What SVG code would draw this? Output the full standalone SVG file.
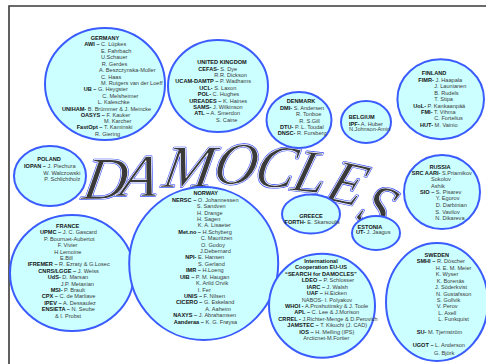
<svg xmlns="http://www.w3.org/2000/svg" xmlns:xlink="http://www.w3.org/1999/xlink" width="486" height="364" viewBox="0 0 486 364">
<style>
  .c { fill: #ccffff; stroke: #3a5cff; stroke-width: 2; }
  text { font-family: "Liberation Sans", Arial, sans-serif; font-size: 5.6px; fill: #3a3a3a; }
  .b { font-weight: bold; fill: #141414; }
  .m { text-anchor: middle; }
  .title { font-family: "Liberation Serif", "Times New Roman", serif; font-style: italic; font-size: 60px; }
</style>
<defs>
  <text id="word" class="title" transform="translate(33,0) skewX(-10)" x="83 120 161 211 252 290 325 360" y="199 196 187 184 186 190 199 219" rotate="0 0 0 0 3 6 12 22">DAMOCLES</text>
</defs>
<rect width="486" height="364" fill="#ffffff"/>
<path d="M9,364 V6 H486" fill="none" stroke="#3a3a3a" stroke-width="1.6"/>

<!-- banner word, double outline -->
<g id="banner">
  <use xlink:href="#word" fill="#eefcff" stroke="#2a40ff" stroke-width="1.9" stroke-linejoin="round"/>
  <use xlink:href="#word" fill="none" stroke="#ffffff" stroke-width="0.7" stroke-linejoin="round"/>
</g>

<g id="germany">
  <ellipse class="c" cx="105" cy="84" rx="60" ry="56"/>
  <text class="b m" x="105" y="39.7">GERMANY</text>
  <text x="84.3" y="45.7"><tspan class="b">AWI –</tspan> C. Lüpkes</text>
  <text x="101" y="53">E. Fahrbach</text>
  <text x="101" y="59">U.Schauer</text>
  <text x="101.7" y="65.7">R. Gerdes</text>
  <text x="99" y="72.3">A. Beszczynska-Moller</text>
  <text x="101" y="78.7">C. Haas</text>
  <text x="101" y="84.7">M. Rutgers van der Loeff</text>
  <text x="83.7" y="91.3"><tspan class="b">UB –</tspan> G. Heygster</text>
  <text x="102.3" y="97.7">C. Melsheimer</text>
  <text x="97.7" y="103.7">L. Kaleschke</text>
  <text x="62" y="110.7"><tspan class="b">UNIHAM-</tspan> B. Brümmer &amp; J. Meincke</text>
  <text x="80.7" y="116.7"><tspan class="b">OASYS –</tspan> F. Kauker</text>
  <text x="104" y="122.7">M. Karcher</text>
  <text x="76.7" y="129.3"><tspan class="b">FastOpt –</tspan> T. Kaminski</text>
  <text x="95" y="135.5">R. Giering</text>
</g>

<g id="uk">
  <ellipse class="c" cx="218" cy="86" rx="50" ry="46"/>
  <text class="b m" x="222" y="64.3">UNITED KINGDOM</text>
  <text x="198.3" y="71"><tspan class="b">CEFAS-</tspan> S. Dye</text>
  <text x="214.3" y="76.7">R.R. Dickson</text>
  <text x="175.3" y="83.3"><tspan class="b">UCAM-DAMTP –</tspan> P. Wadhams</text>
  <text x="199.3" y="89.7"><tspan class="b">UCL-</tspan> S. Laxon</text>
  <text x="197.7" y="96"><tspan class="b">POL-</tspan> C. Hughes</text>
  <text x="189.3" y="102.7"><tspan class="b">UREADES –</tspan> K. Haines</text>
  <text x="193.3" y="109"><tspan class="b">SAMS-</tspan> J. Wilkinson</text>
  <text x="194.3" y="115.3"><tspan class="b">ATL –</tspan> A. Smerdon</text>
  <text x="216" y="121.5">S. Caine</text>
</g>

<g id="denmark">
  <ellipse class="c" cx="299" cy="120" rx="32.5" ry="28"/>
  <text class="b m" x="301" y="102.7">DENMARK</text>
  <text x="280" y="110"><tspan class="b">DMI-</tspan> S. Andersen</text>
  <text x="296" y="116.3">R. Tonboe</text>
  <text x="299.3" y="122.7">R. S.Gill</text>
  <text x="280" y="129"><tspan class="b">DTU-</tspan> P. L. Toudal</text>
  <text x="277.7" y="135.3"><tspan class="b">DNSC-</tspan> R. Forsberg</text>
</g>

<g id="belgium">
  <ellipse class="c" cx="366" cy="122" rx="25" ry="21"/>
  <text class="b m" x="361.7" y="119">BELGIUM</text>
  <text x="349" y="125.7"><tspan class="b">IPF-</tspan> A. Huber</text>
  <text x="349" y="131.3">N.Johnson-Amin</text>
</g>

<g id="finland">
  <ellipse class="c" cx="440.7" cy="99.3" rx="43.3" ry="40"/>
  <text class="b m" x="434" y="75.3">FINLAND</text>
  <text x="418.3" y="82"><tspan class="b">FIMR-</tspan> J. Haapala</text>
  <text x="434.3" y="88">J. Launianen</text>
  <text x="434.3" y="94.7">B. Rudels</text>
  <text x="434.3" y="101">T. Stipa</text>
  <text x="413.3" y="107.7"><tspan class="b">UoL-</tspan> P. Kankaanpää</text>
  <text x="421" y="114"><tspan class="b">FMI-</tspan> T. Vihma</text>
  <text x="434.3" y="120">C. Fortelius</text>
  <text x="420" y="127"><tspan class="b">HUT-</tspan> M. Vainio</text>
</g>

<g id="poland">
  <ellipse class="c" cx="50" cy="176" rx="36" ry="30"/>
  <text class="b m" x="49" y="161">POLAND</text>
  <text x="24" y="168.3"><tspan class="b">IOPAN –</tspan> J. Piechura</text>
  <text x="43.3" y="174.7">W. Walczowski</text>
  <text x="44.3" y="181">P. Schlichtholz</text>
</g>

<g id="russia">
  <ellipse class="c" cx="442" cy="192" rx="38" ry="37"/>
  <text class="b m" x="440" y="168.7">RUSSIA</text>
  <text x="411.7" y="175.3"><tspan class="b">SRC AARI-</tspan> S.Priamikov</text>
  <text x="431" y="181.3">Sokolov</text>
  <text x="431" y="187.7">Ashik</text>
  <text x="420" y="194"><tspan class="b">SIO –</tspan> S. Pisarev</text>
  <text x="435.7" y="200.3">Y. Egorov</text>
  <text x="435.7" y="206.7">D. Darbinian</text>
  <text x="435.3" y="213.7">S. Vavilov</text>
  <text x="435.3" y="220">N. Dikareva</text>
</g>

<g id="france">
  <ellipse class="c" cx="72" cy="273" rx="62" ry="58"/>
  <text class="b m" x="67.7" y="227.7">FRANCE</text>
  <text x="40" y="234.3"><tspan class="b">UPMC –</tspan> J. C. Gascard</text>
  <text x="44" y="241">P. Bourruet-Aubertot</text>
  <text x="57.7" y="247">F. Vivier</text>
  <text x="54.3" y="253.7">H.Lemoine</text>
  <text x="60" y="259.7">E.Bill</text>
  <text x="27.7" y="265.7"><tspan class="b">IFREMER –</tspan> R. Ezraty &amp; G.Losec</text>
  <text x="38.3" y="273"><tspan class="b">CNRS/LGGE –</tspan> J. Weiss</text>
  <text x="47.7" y="279"><tspan class="b">UdS-</tspan> D. Marsan</text>
  <text x="60.7" y="285.7">J.P. Metaxian</text>
  <text x="50.7" y="292"><tspan class="b">MSI-</tspan> P. Brault</text>
  <text x="41.7" y="298"><tspan class="b">CPX –</tspan> C. de Marliave</text>
  <text x="44.3" y="304.7"><tspan class="b">IPEV –</tspan> A. Dessaulez</text>
  <text x="41.7" y="311"><tspan class="b">ENSIETA –</tspan> N. Seube</text>
  <text x="55" y="318">&amp; I. Probst</text>
</g>

<g id="norway">
  <ellipse class="c" cx="203.7" cy="263.5" rx="74.5" ry="76.5"/>
  <text class="b m" x="205.7" y="194.7">NORWAY</text>
  <text x="172" y="202"><tspan class="b">NERSC –</tspan> O. Johannessen</text>
  <text x="196.7" y="208">S. Sandven</text>
  <text x="197" y="215">H. Drange</text>
  <text x="197" y="221">H. Sagen</text>
  <text x="197.7" y="227">K. A. Lisaeter</text>
  <text x="178.3" y="234"><tspan class="b">Met.no –</tspan> H.Schyberg</text>
  <text x="200.7" y="240">C. Mauritzen</text>
  <text x="201" y="247">O. Godoy</text>
  <text x="200" y="252.7">J.Debernard</text>
  <text x="185.3" y="259"><tspan class="b">NPI-</tspan> E. Hansen</text>
  <text x="198" y="266">S. Gerland</text>
  <text x="186" y="272"><tspan class="b">IMR –</tspan> H.Loeng</text>
  <text x="180" y="279"><tspan class="b">UIB –</tspan> P. M. Haugan</text>
  <text x="196" y="285">K. Arild Orvik</text>
  <text x="197.7" y="291.7">I. Fer</text>
  <text x="184" y="298"><tspan class="b">UNIS –</tspan> F. Nilsen</text>
  <text x="176" y="304"><tspan class="b">CICERO –</tspan> G. Eskeland</text>
  <text x="205.3" y="310.7">A. Aaheim</text>
  <text x="173.3" y="317"><tspan class="b">NAXYS –</tspan> J. Abrahamsen</text>
  <text x="173.7" y="324"><tspan class="b">Aanderaa –</tspan> K. G. Frøysa</text>
</g>

<g id="greece">
  <ellipse class="c" cx="311" cy="214" rx="29" ry="19.5"/>
  <text class="b m" x="311" y="218">GREECE</text>
  <text x="284.5" y="223.7"><tspan class="b">FORTH-</tspan> E. Skarsoulis</text>
</g>

<g id="estonia">
  <ellipse class="c" cx="376" cy="233" rx="24" ry="17"/>
  <text class="b m" x="370" y="228.7">ESTONIA</text>
  <text x="356" y="234.3"><tspan class="b">UT-</tspan> J. Jaagus</text>
</g>

<g id="international">
  <ellipse class="c" cx="322" cy="305.7" rx="53" ry="52"/>
  <text class="b m" x="321" y="263">International</text>
  <text class="b m" x="321" y="269.3">Cooperation EU-US</text>
  <text class="b m" x="321" y="276">“SEARCH for DAMOCLES”</text>
  <text x="301.7" y="282"><tspan class="b">LDEO –</tspan> P. Schlosser</text>
  <text x="306.7" y="288.7"><tspan class="b">IARC –</tspan> J. Walsh</text>
  <text x="306.7" y="295"><tspan class="b">UAF –</tspan> H.Eicken</text>
  <text x="301.7" y="302">NABOS- I. Polyakov</text>
  <text x="285" y="308"><tspan class="b">WHOI -</tspan> A.Proshutinsky &amp;  J. Toole</text>
  <text x="294.3" y="314"><tspan class="b">APL –</tspan> C. Lee  &amp; J.Morison</text>
  <text x="278.3" y="320.7"><tspan class="b">CRREL -</tspan> J.Richter-Menge &amp; D.Perovich</text>
  <text x="287.3" y="327"><tspan class="b">JAMSTEC –</tspan> T. Kikuchi (J. CAD)</text>
  <text x="299.3" y="333.7"><tspan class="b">IOS –</tspan> H. Melling (IPS)</text>
  <text x="303.3" y="340">Arcticnet-M.Fortier</text>
</g>

<g id="sweden">
  <ellipse class="c" cx="437" cy="302" rx="51" ry="59"/>
  <text class="b m" x="436.7" y="257">SWEDEN</text>
  <text x="416.7" y="262.7"><tspan class="b">SMHI –</tspan> R. Döscher</text>
  <text x="435.7" y="270">H. E. M. Meier</text>
  <text x="435.7" y="276">K. Wyser</text>
  <text x="436.7" y="282.7">K. Borenäs</text>
  <text x="435" y="289">J. Söderkvist</text>
  <text x="436" y="295.7">N. Gustafsson</text>
  <text x="436.7" y="302">S. Gollvik</text>
  <text x="436.7" y="308.3">V. Perov</text>
  <text x="438.3" y="314.7">L. Axell</text>
  <text x="438.3" y="321">L. Funkquist</text>
  <text x="416.7" y="333.7"><tspan class="b">SU-</tspan> M. Tjernström</text>
  <text x="412.7" y="347"><tspan class="b">UGOT –</tspan> L. Anderson</text>
  <text x="434" y="354.7">G. Björk</text>
</g>

<!-- no connectors in this chart -->
<g id="connectors"></g>
</svg>
